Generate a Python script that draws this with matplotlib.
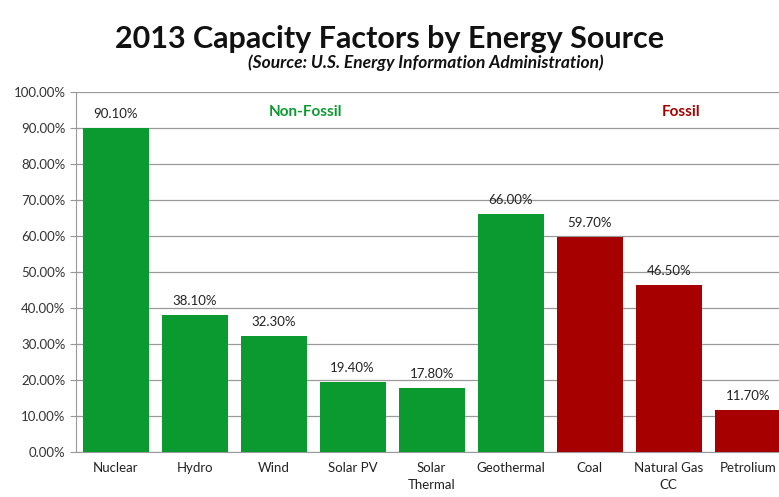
import numpy as np
import matplotlib.pyplot as plt

categories = ["Nuclear", "Hydro", "Wind", "Solar PV", "Solar\nThermal",
              "Geothermal", "Coal", "Natural Gas\nCC", "Petrolium"]
values = [90.1, 38.1, 32.3, 19.4, 17.8, 66.0, 59.7, 46.5, 11.7]
groups = ["non", "non", "non", "non", "non", "non", "fos", "fos", "fos"]

green = "#0b9a2f"
red = "#a60000"
colors = [green if g == "non" else red for g in groups]

plt.rcParams["font.family"] = ["Lato", "DejaVu Sans"]

fig = plt.figure(figsize=(7.79, 4.97), dpi=100)
ax = fig.add_axes([0.0976, 0.0905, 0.913, 0.7245])

x = np.arange(len(categories))
ax.bar(x, values, width=0.835, color=colors, zorder=3)
for xi, v in zip(x, values):
    ax.text(xi, v + 2.2, f"{v:.2f}%", ha="center", va="bottom", fontsize=9.5, color="#222222")

ax.set_ylim(0, 100)
ax.set_xlim(-0.5, len(categories) - 0.5)
ticks = np.arange(0, 101, 10)
ax.set_yticks(ticks)
ax.set_yticklabels([f"{t:.2f}%" for t in ticks], fontsize=9.5, color="#333333")
ax.set_xticks(x)
ax.set_xticklabels(categories, fontsize=9.5, color="#222222", linespacing=1.55)
ax.tick_params(axis="x", length=0, pad=7)
ax.tick_params(axis="y", length=4, color="#999999", direction="out")
ax.grid(axis="y", color="#9a9a9a", linewidth=0.9, zorder=0)
for s in ["top", "right"]:
    ax.spines[s].set_visible(False)
ax.spines["left"].set_color("#999999")
ax.spines["bottom"].set_color("#999999")

ax.text(2.4, 94.5, "Non-Fossil", color=green, fontsize=11, fontweight="bold", ha="center", va="center")
ax.text(7.15, 94.5, "Fossil", color=red, fontsize=11, fontweight="bold", ha="center", va="center")

fig.text(0.5, 0.922, "2013 Capacity Factors by Energy Source", ha="center", va="center",
         fontsize=22, fontweight="bold", color="#111111")
fig.text(0.546, 0.873, "(Source: U.S. Energy Information Administration)",
         ha="center", va="center", fontsize=12.5, fontweight="bold", fontstyle="italic",
         color="#111111")

fig.savefig("out.png", dpi=100)
